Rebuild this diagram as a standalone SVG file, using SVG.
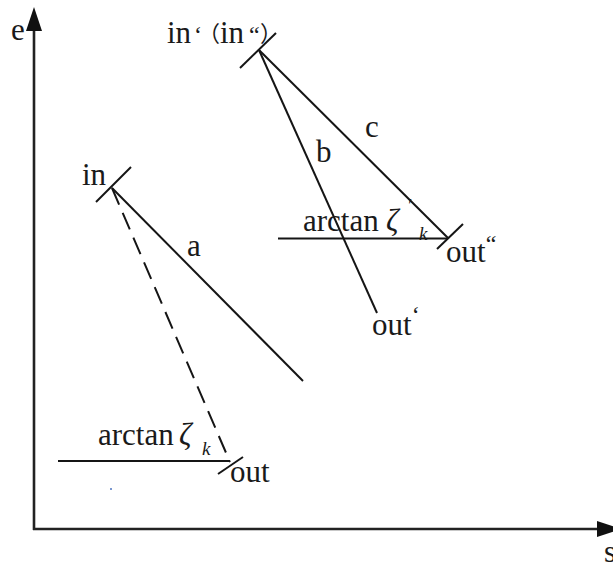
<svg xmlns="http://www.w3.org/2000/svg" width="613" height="562" viewBox="0 0 613 562" font-family="'Liberation Serif', 'Times New Roman', Times, serif">
<defs>
<style>
.ln{stroke:#151515;stroke-width:2;fill:none;stroke-linecap:butt}
.ax{stroke:#222;stroke-width:2.6;fill:none}
text{font-family:'Liberation Serif', 'Times New Roman', Times, serif}
.t{font-size:31px;fill:#1a1a1a}
.g{font-style:italic;font-size:31px;fill:#1a1a1a}
.k{font-style:italic;font-size:19px;fill:#1a1a1a}
.cj{font-family:'Noto Sans CJK SC', sans-serif;font-size:22px;fill:#1a1a1a}
</style>
</defs>
<rect width="613" height="562" fill="#fff"/>
<g id="axes">
<line class="ax" x1="34" y1="530" x2="34" y2="26"/>
<polygon points="34,7 26,31 42,31" fill="#111"/>
<line class="ax" x1="33" y1="529" x2="600" y2="529"/>
<polygon points="621,529 597,521 597,537" fill="#111"/>
<text class="t" x="11" y="40">e</text>
<text class="t" x="604" y="562">s</text>
</g>
<g id="connectors">
<line class="ln" x1="112" y1="188" x2="303" y2="381"/>
<line class="ln" x1="112" y1="188" x2="230" y2="462" stroke-dasharray="18 9"/>
<line class="ln" x1="58" y1="461" x2="230" y2="461"/>
<line class="ln" x1="259" y1="50" x2="377" y2="313"/>
<line class="ln" x1="259" y1="50" x2="448" y2="238"/>
<line class="ln" x1="278" y1="238.5" x2="448" y2="238.5"/>
</g>
<g id="node-in">
<line class="ln" x1="96" y1="202" x2="131" y2="167"/>
<text class="t" x="82" y="185">in</text>
</g>
<g id="node-out">
<line class="ln" x1="218" y1="474" x2="243" y2="457"/>
<text class="t" x="230" y="482">out</text>
</g>
<g id="node-in2">
<line class="ln" x1="240" y1="68" x2="276" y2="33"/>
<text class="t" x="167" y="43">in<tspan x="194" y="43" font-size="24">‘</tspan><tspan class="cj" x="198" y="41">（</tspan><tspan x="220" y="43">in</tspan><tspan x="249" y="43" font-size="24">“</tspan><tspan class="cj" x="260" y="41">）</tspan></text>
</g>
<g id="node-out1">
<text class="t" x="372" y="335">out<tspan font-size="24" dy="-12">‘</tspan></text>
</g>
<g id="node-out2">
<line class="ln" x1="437" y1="249" x2="463" y2="224"/>
<text class="t" x="446" y="262">out<tspan font-size="24" dy="-10">“</tspan></text>
</g>
<g id="labels">
<text class="t" x="187" y="256">a</text>
<text class="t" x="316" y="162">b</text>
<text class="t" x="365" y="137">c</text>
<text class="t" x="98" y="445">arctan</text>
<text class="g" x="179" y="445">ζ</text>
<text class="k" x="202" y="455">k</text>
<text class="t" x="303" y="231">arctan</text>
<text class="g" x="386" y="231">ζ</text>
<text class="k" x="407" y="212">′</text>
<text class="k" x="419" y="240">k</text>
</g>
<rect x="110" y="488" width="2" height="2" fill="#7a97cf"/>
</svg>
